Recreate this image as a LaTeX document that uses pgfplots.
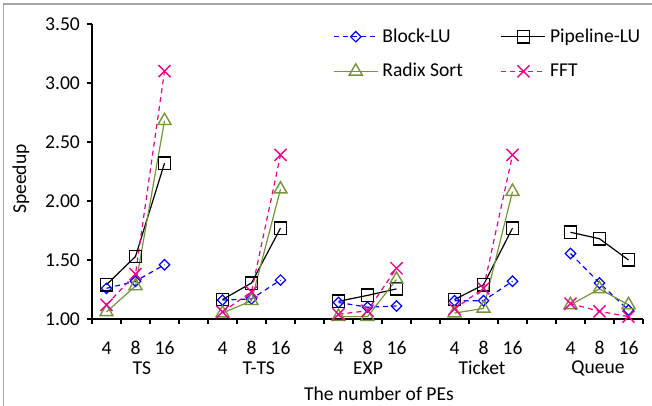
\documentclass[border=0pt]{standalone}
\usepackage{fontspec}
\setmainfont{Carlito}
\usepackage{pgfplots}
\pgfplotsset{compat=1.18}
\definecolor{olivethree}{HTML}{77933C}
\definecolor{bordergray}{HTML}{A6A6A6}
\newcommand\fs{\fontsize{9.8}{11.5}\selectfont}
\begin{document}
\begin{tikzpicture}[font=\fs]
\useasboundingbox (0,0) rectangle (326pt,203pt);
\draw[bordergray, line width=0.8pt] (1.75pt,0) -- (1.75pt,201pt) -- (326pt,201pt);
\begin{axis}[
  at={(46pt,43.5pt)}, anchor=south west,
  scale only axis, width=275.5pt, height=147.5pt,
  xmin=-0.5, xmax=18.5, ymin=1, ymax=3.5,
  axis x line=bottom, axis y line=left,
  axis line style={-, line width=0.6pt, black},
  xtick={-0.5,0.5,...,18.5}, xticklabels={},
  ytick={1,1.5,2,2.5,3,3.5},
  tick align=outside, major tick length=2.5pt,
  tick style={black, line width=0.6pt},
  /pgf/number format/assume math mode=true,
  yticklabel style={/pgf/number format/fixed, /pgf/number format/fixed zerofill, /pgf/number format/precision=2, font=\fs},
  clip=false,
  unbounded coords=jump,
  legend columns=2,
  legend cell align=left,
  legend style={draw=none, fill=none, at={(0.437,1.0)}, anchor=north west, inner sep=0pt, font=\fs,
    /tikz/every even column/.append style={column sep=17pt}, row sep=5pt},
  legend image code/.code={\draw[mark repeat=2,mark phase=2,#1] plot coordinates {(0pt,0pt) (11pt,0pt) (22pt,0pt)};},
]
\addplot[blue, dash pattern=on 2.5pt off 2pt, line width=0.6pt, mark=diamond, mark size=2.6pt,
  mark options={solid, xscale=1.33, line width=0.6pt, fill=none}] coordinates {
  (0,1.26) (1,1.32) (2,1.46) (3,nan)
  (4,1.16) (5,1.17) (6,1.33) (7,nan)
  (8,1.14) (9,1.10) (10,1.11) (11,nan)
  (12,1.155) (13,1.155) (14,1.32) (15,nan)
  (16,1.555) (17,1.305) (18,1.075)};
\addlegendentry{Block-LU}
\addplot[black, line width=0.6pt, mark=square, mark size=3.1pt,
  mark options={solid, line width=0.7pt, fill=none}] coordinates {
  (0,1.29) (1,1.53) (2,2.32) (3,nan)
  (4,1.165) (5,1.305) (6,1.77) (7,nan)
  (8,1.15) (9,1.20) (10,1.255) (11,nan)
  (12,1.165) (13,1.29) (14,1.77) (15,nan)
  (16,1.735) (17,1.68) (18,1.50)};
\addlegendentry{Pipeline-LU}
\addplot[olivethree, line width=0.6pt, mark=triangle, mark size=3.75pt,
  mark options={solid, line width=0.7pt, fill=none}] coordinates {
  (0,1.06) (1,1.28) (2,2.68) (3,nan)
  (4,1.05) (5,1.155) (6,2.10) (7,nan)
  (8,1.02) (9,1.02) (10,1.335) (11,nan)
  (12,1.05) (13,1.09) (14,2.08) (15,nan)
  (16,1.12) (17,1.255) (18,1.12)};
\addlegendentry{Radix Sort}
\addplot[magenta, dash pattern=on 2.5pt off 2pt, line width=0.6pt, mark=x, mark size=4.25pt,
  mark options={solid, line width=0.7pt}] coordinates {
  (0,1.12) (1,1.38) (2,3.10) (3,nan)
  (4,1.06) (5,1.23) (6,2.39) (7,nan)
  (8,1.04) (9,1.07) (10,1.43) (11,nan)
  (12,1.085) (13,1.26) (14,2.39) (15,nan)
  (16,1.13) (17,1.065) (18,1.02)};
\addlegendentry{FFT}
\end{axis}
\foreach \c/\l in {0/4,1/8,2/16,4/4,5/8,6/16,8/4,9/8,10/16,12/4,13/8,14/16,16/4,17/8,18/16}
  \node at ({53.25pt+14.5pt*\c}, 29pt) {\l};
\foreach \c/\l in {1.22/TS,5.25/T-TS,9.02/EXP,12.95/Ticket,16.95/Queue}
  \node at ({53.25pt+14.5pt*\c}, 19pt) {\l};
\node at (189.5pt, 6pt) {The number of PEs};
\node[rotate=90] at (10.5pt, 113.5pt) {Speedup};
\end{tikzpicture}
\end{document}
